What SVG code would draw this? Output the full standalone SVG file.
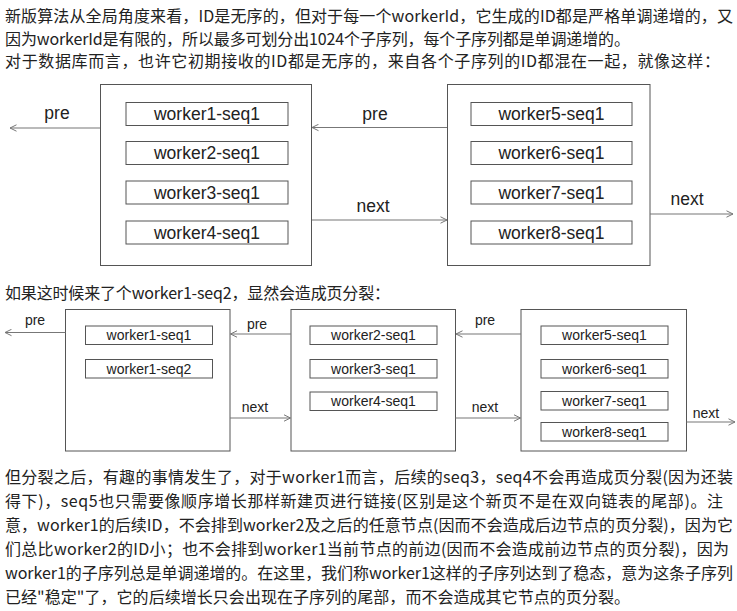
<svg xmlns="http://www.w3.org/2000/svg" width="737" height="611" viewBox="0 0 737 611">
<style>
.para{font-family:"Noto Sans CJK SC","Liberation Sans",sans-serif;fill:#222}
.p16{font-size:16px}
.box{fill:#fff;stroke:#555;stroke-width:1}
.cell{fill:#fff;stroke:#555;stroke-width:1}
.t1{font-family:"Liberation Sans",Arial,sans-serif;font-size:17.5px;fill:#222;text-anchor:middle}
.t2{font-family:"Liberation Sans",Arial,sans-serif;font-size:14px;fill:#222;text-anchor:middle}
.conn{fill:none;stroke:#777;stroke-width:1.2}
</style>
<defs>
<marker id="arr" viewBox="0 0 8 8" refX="7" refY="4" markerWidth="8" markerHeight="8" markerUnits="userSpaceOnUse" orient="auto">
<path d="M0.5,0.8 L7,4 L0.5,7.2" fill="none" stroke="#777" stroke-width="1"/>
</marker>
</defs>
<rect width="737" height="611" fill="#fff"/>

<g id="text-top" class="para p16">
<text x="5" y="22" textLength="728" lengthAdjust="spacing">新版算法从全局角度来看，ID是无序的，但对于每一个workerId，它生成的ID都是严格单调递增的，又</text>
<text x="5" y="44.5" textLength="625" lengthAdjust="spacing">因为workerId是有限的，所以最多可划分出1024个子序列，每个子序列都是单调递增的。</text>
<text x="5" y="66.5" textLength="715" lengthAdjust="spacing">对于数据库而言，也许它初期接收的ID都是无序的，来自各个子序列的ID都混在一起，就像这样：</text>
</g>

<g id="node-a1">
<rect class="box" x="100.5" y="84.5" width="211" height="181"/>
<rect class="cell" x="126" y="102.5" width="162" height="23"/><text class="t1" x="207" y="120">worker1-seq1</text>
<rect class="cell" x="126" y="141.5" width="162" height="23"/><text class="t1" x="207" y="159">worker2-seq1</text>
<rect class="cell" x="126" y="181" width="162" height="23"/><text class="t1" x="207" y="198.5">worker3-seq1</text>
<rect class="cell" x="126" y="221" width="162" height="23"/><text class="t1" x="207" y="238.5">worker4-seq1</text>
</g>
<g id="node-a2">
<rect class="box" x="447.5" y="84.5" width="202.5" height="181"/>
<rect class="cell" x="471" y="102.5" width="161" height="23"/><text class="t1" x="551.5" y="120">worker5-seq1</text>
<rect class="cell" x="471" y="141.5" width="161" height="23"/><text class="t1" x="551.5" y="159">worker6-seq1</text>
<rect class="cell" x="471" y="181" width="161" height="23"/><text class="t1" x="551.5" y="198.5">worker7-seq1</text>
<rect class="cell" x="471" y="221" width="161" height="23"/><text class="t1" x="551.5" y="238.5">worker8-seq1</text>
</g>

<g id="text-mid" class="para p16">
<text x="5" y="299" textLength="385" lengthAdjust="spacing">如果这时候来了个worker1-seq2，显然会造成页分裂：</text>
</g>

<g id="node-b1">
<rect class="box" x="65.5" y="309.5" width="164.5" height="141.5"/>
<rect class="cell" x="85.5" y="326" width="127" height="18.5"/><text class="t2" x="149" y="340">worker1-seq1</text>
<rect class="cell" x="85.5" y="359.5" width="127" height="18.5"/><text class="t2" x="149" y="373.5">worker1-seq2</text>
</g>
<g id="node-b2">
<rect class="box" x="291" y="309.5" width="164.5" height="141.5"/>
<rect class="cell" x="310" y="326" width="127" height="18.5"/><text class="t2" x="373.5" y="340">worker2-seq1</text>
<rect class="cell" x="310" y="359.5" width="127" height="18.5"/><text class="t2" x="373.5" y="373.5">worker3-seq1</text>
<rect class="cell" x="310" y="392" width="127" height="18.5"/><text class="t2" x="373.5" y="406">worker4-seq1</text>
</g>
<g id="node-b3">
<rect class="box" x="521" y="309.5" width="165.5" height="141.5"/>
<rect class="cell" x="541" y="326" width="127" height="18.5"/><text class="t2" x="604.5" y="340">worker5-seq1</text>
<rect class="cell" x="541" y="359.5" width="127" height="18.5"/><text class="t2" x="604.5" y="373.5">worker6-seq1</text>
<rect class="cell" x="541" y="391.5" width="127" height="18.5"/><text class="t2" x="604.5" y="405.5">worker7-seq1</text>
<rect class="cell" x="541" y="422.5" width="127" height="18.5"/><text class="t2" x="604.5" y="436.5">worker8-seq1</text>
</g>

<g id="connectors">
<path class="conn" d="M100,128 L10,128" marker-end="url(#arr)"/>
<text class="t1" x="57" y="119">pre</text>
<path class="conn" d="M447,127.5 L312,127.5" marker-end="url(#arr)"/>
<text class="t1" x="375" y="120">pre</text>
<path class="conn" d="M312,220 L447,220" marker-end="url(#arr)"/>
<text class="t1" x="373" y="212">next</text>
<path class="conn" d="M650,214 L733,214" marker-end="url(#arr)"/>
<text class="t1" x="687" y="205">next</text>

<path class="conn" d="M65.5,332.5 L5,332.5" marker-end="url(#arr)"/>
<text class="t2" x="35" y="325">pre</text>
<path class="conn" d="M291,334 L230.5,334" marker-end="url(#arr)"/>
<text class="t2" x="257" y="329">pre</text>
<path class="conn" d="M230,418 L290.5,418" marker-end="url(#arr)"/>
<text class="t2" x="255" y="412">next</text>
<path class="conn" d="M521,334 L456,334" marker-end="url(#arr)"/>
<text class="t2" x="485" y="325">pre</text>
<path class="conn" d="M455.5,418 L520.5,418" marker-end="url(#arr)"/>
<text class="t2" x="485" y="412">next</text>
<path class="conn" d="M686.5,422 L735,422" marker-end="url(#arr)"/>
<text class="t2" x="706" y="418">next</text>
</g>

<g id="text-bottom" class="para p16">
<text x="5" y="483" textLength="728" lengthAdjust="spacing">但分裂之后，有趣的事情发生了，对于worker1而言，后续的seq3，seq4不会再造成页分裂(因为还装</text>
<text x="5" y="507" textLength="718" lengthAdjust="spacing">得下)，seq5也只需要像顺序增长那样新建页进行链接(区别是这个新页不是在双向链表的尾部)。注</text>
<text x="5" y="531" textLength="728" lengthAdjust="spacing">意，worker1的后续ID，不会排到worker2及之后的任意节点(因而不会造成后边节点的页分裂)，因为它</text>
<text x="5" y="555" textLength="724" lengthAdjust="spacing">们总比worker2的ID小；也不会排到worker1当前节点的前边(因而不会造成前边节点的页分裂)，因为</text>
<text x="5" y="579" textLength="728" lengthAdjust="spacing">worker1的子序列总是单调递增的。在这里，我们称worker1这样的子序列达到了稳态，意为这条子序列</text>
<text x="5" y="603" textLength="625" lengthAdjust="spacing">已经"稳定"了，它的后续增长只会出现在子序列的尾部，而不会造成其它节点的页分裂。</text>
</g>
</svg>
